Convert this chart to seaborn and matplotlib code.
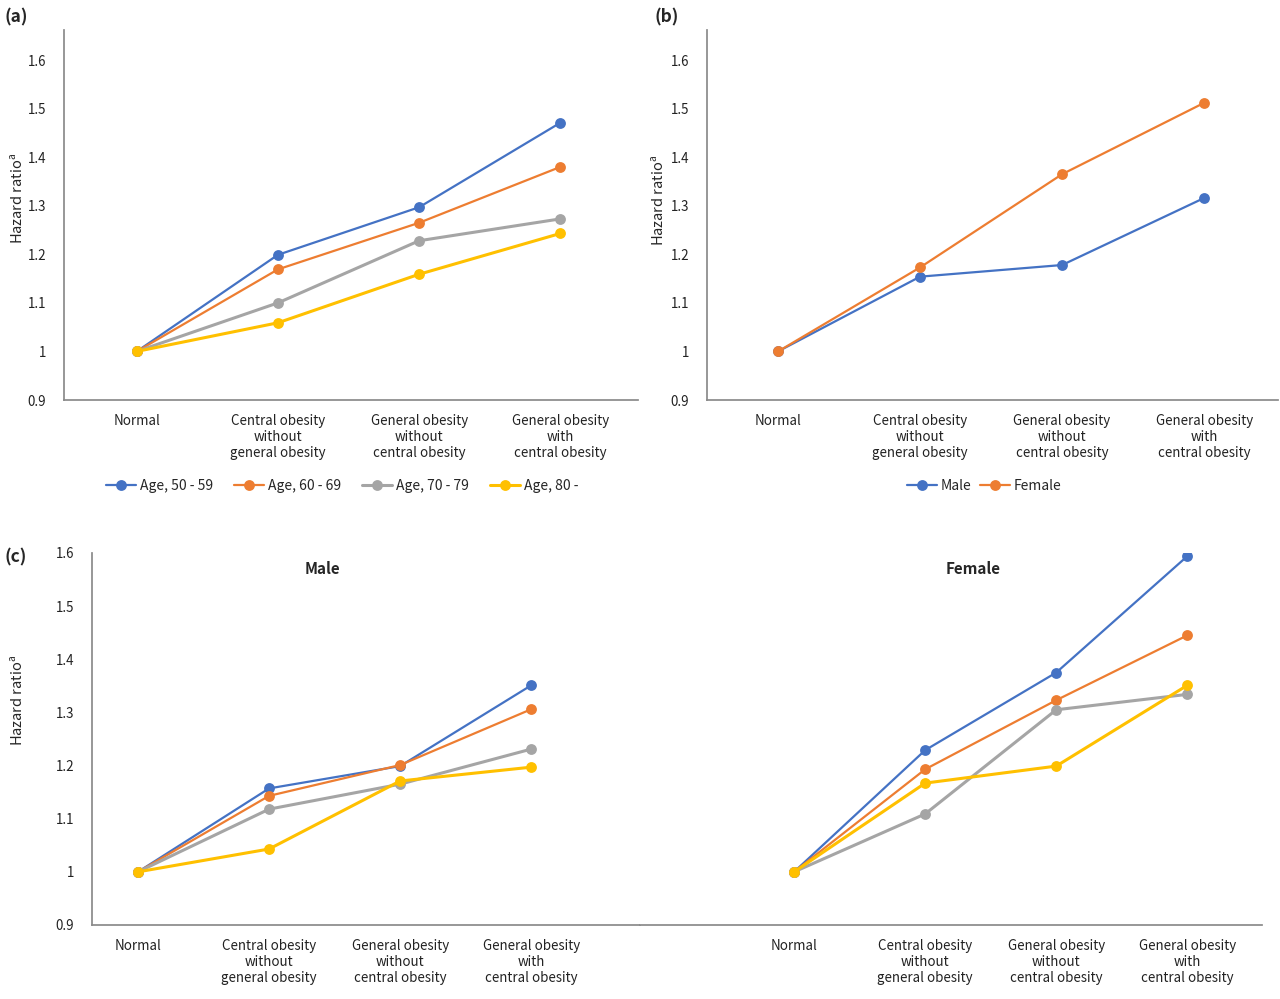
import matplotlib

matplotlib.use("Agg")

import matplotlib.pyplot as plt
import pandas as pd
import seaborn as sns


CATEGORIES = [
    "Normal",
    "Central obesity\nwithout\ngeneral obesity",
    "General obesity\nwithout\ncentral obesity",
    "General obesity\nwith\ncentral obesity",
]

AGE_GROUPS = ["Age, 50 - 59", "Age, 60 - 69", "Age, 70 - 79", "Age, 80 -"]
SEX_GROUPS = ["Male", "Female"]

# (a) hazard ratio by age group
AGE_50_59 = [1.0, 1.199, 1.297, 1.471]
AGE_60_69 = [1.0, 1.169, 1.265, 1.380]
AGE_70_79 = [1.0, 1.100, 1.228, 1.273]
AGE_80_UP = [1.0, 1.059, 1.159, 1.243]

# (b) hazard ratio by sex
MALE = [1.0, 1.154, 1.178, 1.316]
FEMALE = [1.0, 1.173, 1.365, 1.512]

# (c) hazard ratio by age group within sex
MALE_50_59 = [1.0, 1.157, 1.199, 1.351]
MALE_60_69 = [1.0, 1.143, 1.201, 1.306]
MALE_70_79 = [1.0, 1.118, 1.165, 1.231]
MALE_80_UP = [1.0, 1.043, 1.171, 1.197]

FEMALE_50_59 = [1.0, 1.229, 1.375, 1.594]
FEMALE_60_69 = [1.0, 1.193, 1.323, 1.445]
FEMALE_70_79 = [1.0, 1.109, 1.305, 1.334]
FEMALE_80_UP = [1.0, 1.167, 1.199, 1.351]

Y_TICKS = [0.9, 1.0, 1.1, 1.2, 1.3, 1.4, 1.5, 1.6]
Y_TICK_LABELS = ["0.9", "1", "1.1", "1.2", "1.3", "1.4", "1.5", "1.6"]

COLORS = ["#4472C4", "#ED7D31", "#A5A5A5", "#FFC000"]
AGE_WIDTHS = [1.6, 1.6, 2.2, 2.2]
SPINE_COLOR = "#8a8a8a"
FONT = ["Noto Sans CJK KR", "DejaVu Sans"]


def long_frame(groups: list, series: list) -> pd.DataFrame:
    """
    Stack the named series into one long table.
    """
    rows = []
    for group, values in zip(groups, series):
        for position, value in enumerate(values):
            rows.append({"group": group, "position": position, "hazard_ratio": value})
    return pd.DataFrame(rows)


def draw_lines(ax, frame: pd.DataFrame, groups: list, widths: list) -> None:
    """
    Draw one line with circle markers per group.
    """
    for group, color, width in zip(groups, COLORS, widths):
        sns.lineplot(
            data=frame[frame["group"] == group],
            x="position",
            y="hazard_ratio",
            color=color,
            linewidth=width,
            marker="o",
            markersize=7.8,
            markeredgewidth=0,
            label=group,
            errorbar=None,
            ax=ax,
        )
    if ax.get_legend() is not None:
        ax.get_legend().remove()


def style_axis(ax, xlim: tuple, ylim: tuple, show_y: bool = True) -> None:
    """
    Apply the Excel-like axis look.
    """
    ax.set_xlim(*xlim)
    ax.set_ylim(*ylim)
    ax.set_xticks(range(len(CATEGORIES)))
    ax.set_xticklabels(CATEGORIES, fontsize=9.6, linespacing=1.2, family=FONT)
    ax.set_xlabel("")
    ax.set_ylabel("")
    ax.tick_params(axis="both", length=0, pad=10, colors="#222222")
    for side in ["top", "right"]:
        ax.spines[side].set_visible(False)
    ax.spines["bottom"].set_color(SPINE_COLOR)
    ax.spines["left"].set_color(SPINE_COLOR)
    if show_y:
        ax.set_yticks(Y_TICKS)
        ax.set_yticklabels(Y_TICK_LABELS, fontsize=9.6, family=FONT)
        ax.tick_params(axis="y", pad=13)
    else:
        ax.spines["left"].set_visible(False)
        ax.set_yticks([])


def fig_xy(x_px: float, y_px: float) -> tuple:
    return x_px / 1280, 1 - y_px / 999


if __name__ == "__main__":
    sns.set_theme(style="white")
    plt.rcParams["font.family"] = FONT

    fig = plt.figure(figsize=(12.8, 9.99), dpi=100)

    ax_a = fig.add_axes([64 / 1280, 1 - 400 / 999, 574 / 1280, 370 / 999])
    ax_b = fig.add_axes([707 / 1280, 1 - 400 / 999, 571 / 1280, 370 / 999])
    ax_c1 = fig.add_axes([92 / 1280, 1 - 925 / 999, 548 / 1280, 372 / 999])
    ax_c2 = fig.add_axes([640 / 1280, 1 - 925 / 999, 622 / 1280, 372 / 999])

    age_frame = long_frame(AGE_GROUPS, [AGE_50_59, AGE_60_69, AGE_70_79, AGE_80_UP])
    sex_frame = long_frame(SEX_GROUPS, [MALE, FEMALE])
    male_frame = long_frame(AGE_GROUPS, [MALE_50_59, MALE_60_69, MALE_70_79, MALE_80_UP])
    female_frame = long_frame(
        AGE_GROUPS, [FEMALE_50_59, FEMALE_60_69, FEMALE_70_79, FEMALE_80_UP]
    )

    draw_lines(ax_a, age_frame, AGE_GROUPS, AGE_WIDTHS)
    draw_lines(ax_b, sex_frame, SEX_GROUPS, [1.6, 1.6])
    draw_lines(ax_c1, male_frame, AGE_GROUPS, AGE_WIDTHS)
    draw_lines(ax_c2, female_frame, AGE_GROUPS, AGE_WIDTHS)

    style_axis(ax_a, (-0.515, 3.55), (0.9, 1.662))
    style_axis(ax_b, (-0.50, 3.52), (0.9, 1.662))
    style_axis(ax_c1, (-0.351, 3.83), (0.9, 1.6))
    style_axis(ax_c2, (-1.176, 3.57), (0.9, 1.6), show_y=False)

    handles_a, labels_a = ax_a.get_legend_handles_labels()
    fig.legend(
        handles_a, labels_a, loc="center", bbox_to_anchor=fig_xy(342, 486),
        ncol=4, frameon=False, fontsize=10, handlelength=2.2,
        handletextpad=0.25, columnspacing=1.5,
    )
    handles_b, labels_b = ax_b.get_legend_handles_labels()
    fig.legend(
        handles_b, labels_b, loc="center", bbox_to_anchor=fig_xy(984, 486),
        ncol=2, frameon=False, fontsize=10, handlelength=2.2,
        handletextpad=0.25, columnspacing=0.6,
    )

    for label, (x_px, y_px) in [("(a)", (4, 17)), ("(b)", (654, 17)), ("(c)", (4, 557))]:
        fig.text(*fig_xy(x_px, y_px), label, fontsize=12.5, fontweight="bold",
                 va="center", ha="left")

    for x_px, y_px in [(17, 198), (658, 200), (17, 700)]:
        fig.text(*fig_xy(x_px, y_px), "Hazard ratio$^\\mathregular{a}$",
                 rotation=90, fontsize=10.5, va="center", ha="center")

    fig.text(*fig_xy(322, 569), "Male", fontsize=11, fontweight="bold",
             ha="center", va="center")
    fig.text(*fig_xy(973, 569), "Female", fontsize=11, fontweight="bold",
             ha="center", va="center")

    fig.savefig("out.png", dpi=100)
    plt.close(fig)
